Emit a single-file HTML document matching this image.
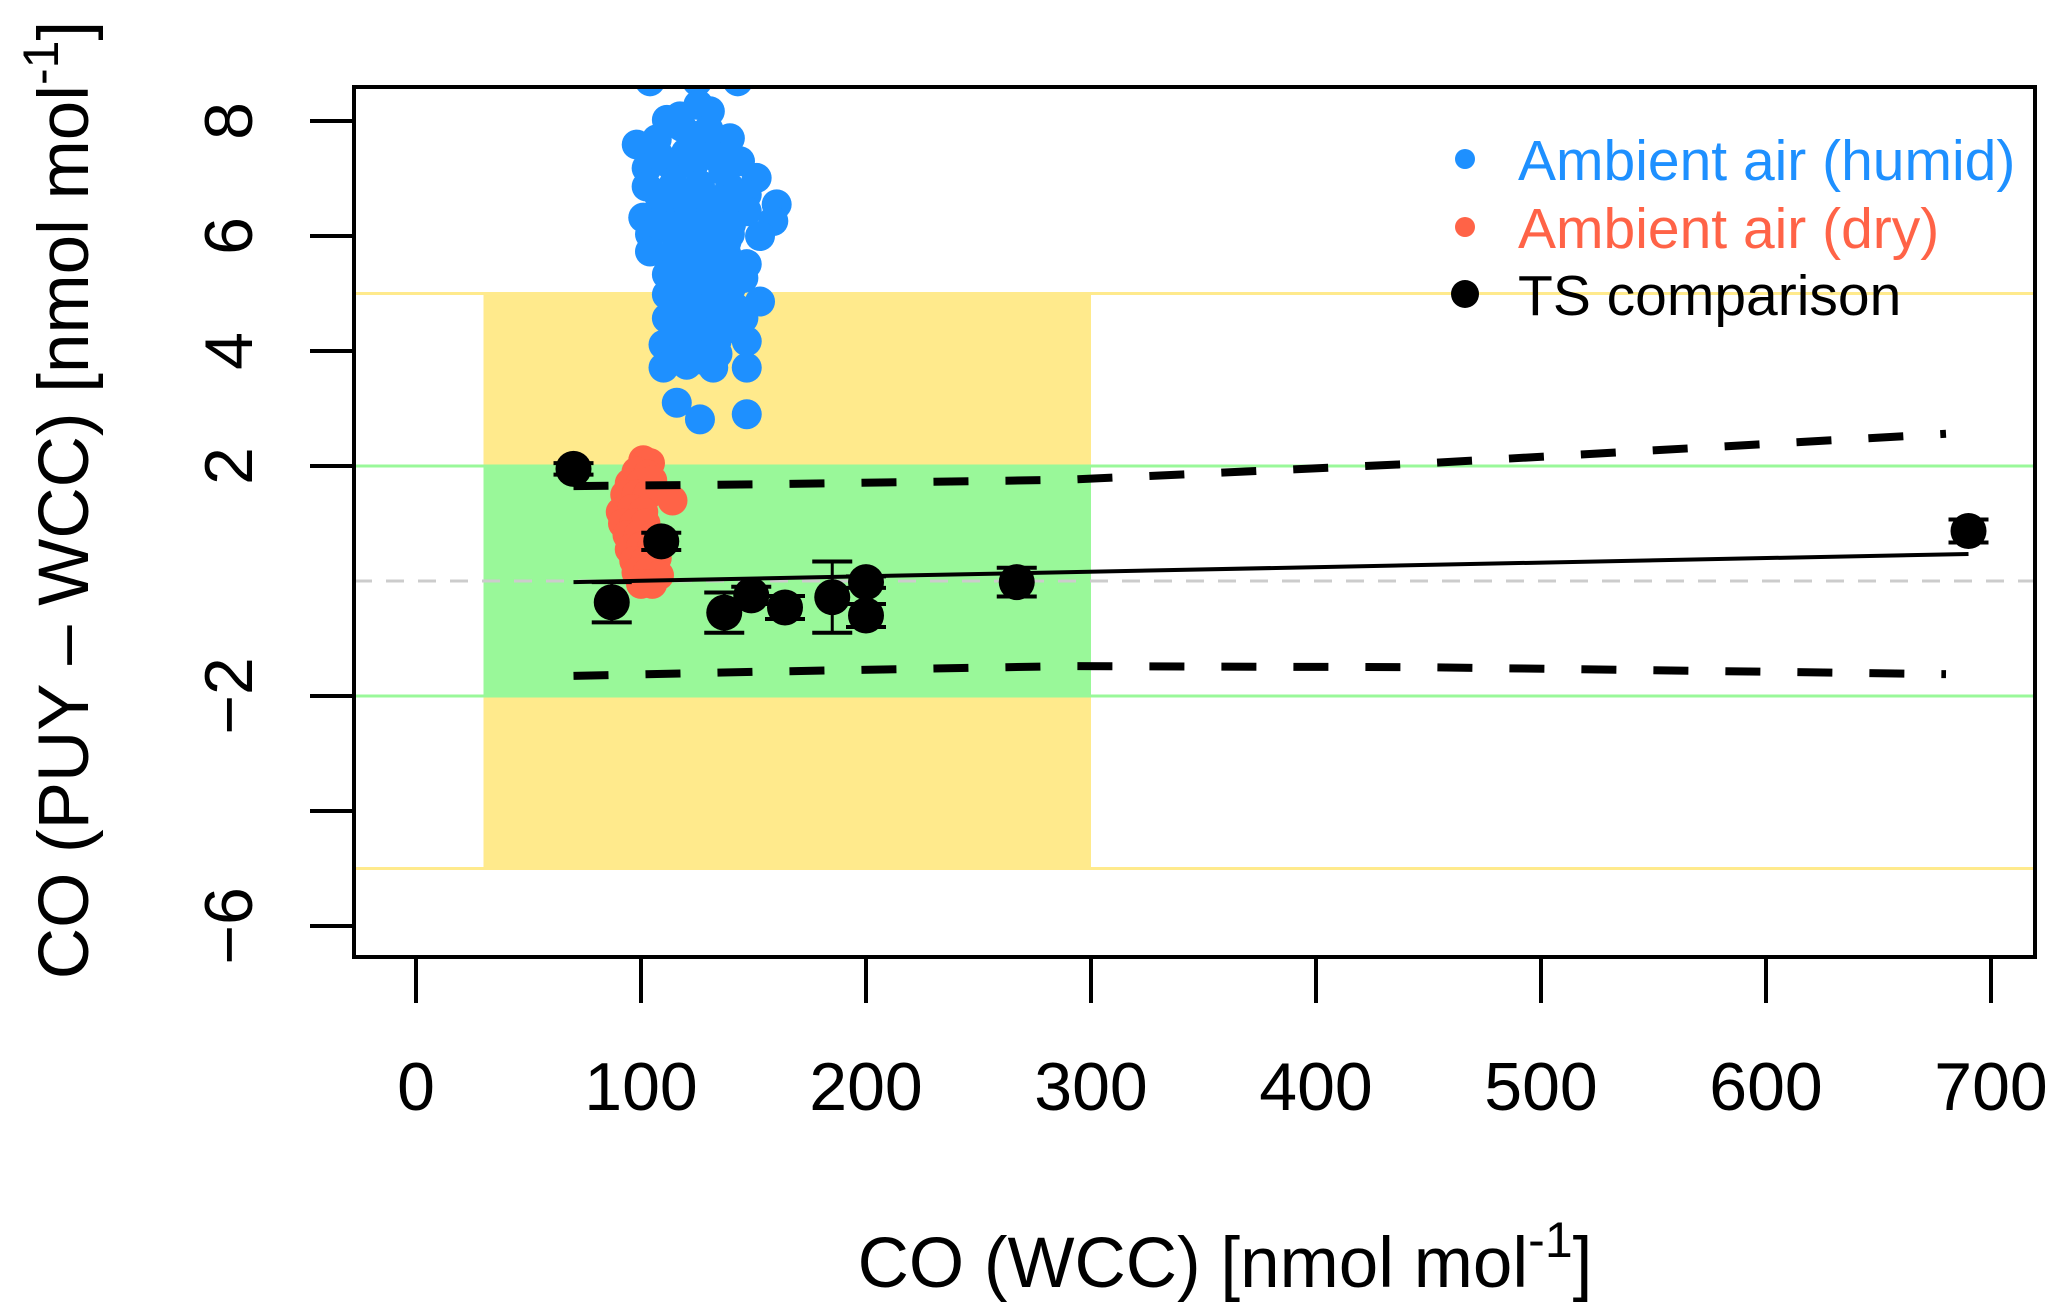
<!DOCTYPE html>
<html><head><meta charset="utf-8"><style>
html,body{margin:0;padding:0;background:#fff;}
svg{display:block;font-family:"Liberation Sans",Arial,sans-serif;}
</style></head><body>
<svg id="chart" width="2067" height="1313" viewBox="0 0 2067 1313" xmlns="http://www.w3.org/2000/svg">
<defs><clipPath id="plotclip"><rect x="354" y="87" width="1681" height="870"/></clipPath></defs>
<g id="bg" clip-path="url(#plotclip)"></g>
<g id="marks" clip-path="url(#plotclip)"></g>
<g id="axes"></g>
</svg>
<script>
const xTicks = [0,100,200,300,400,500,600,700];
const yTicks = [8,6,4,2,-2,-4,-6];
const yTickLabels = ["8","6","4","2","\u22122","","\u22126"];
const humidX = [104,125,143,125.5,130.6,111.5,117.3,98.1,107,121.8,139.5,129.2,133.6,102.5,113,123.3,136.6,151.4,102.5,114.4,126.2,139.5,147,160.3,101,111.5,123.3,135.1,147,158.8,104,115.9,127.7,139.5,152.9,104,114.4,126.2,138,147,111.5,123.3,135.1,145.5,111.5,123.3,135.1,152.9,111.5,123.3,135.1,145.5,110,121.8,133.6,147,110,120.3,132.1,147,115.9,126.2,147,129.2,118,140,
118,130,108,120,132,144,108,118,128,140,108,118,128,140,116,126,138,116,128,140,116,128,140,120,130,142,120,132,122,134,115,127];
const humidY = [8.69,8.69,8.69,8.28,8.17,8.02,8.08,7.59,7.68,7.76,7.7,7.53,7.36,7.18,7.24,7.24,7.13,7.01,6.86,6.89,6.89,6.84,6.72,6.55,6.32,6.43,6.49,6.43,6.43,6.26,6.03,6.03,6.03,6.03,6.0,5.73,5.68,5.68,5.68,5.51,5.33,5.33,5.33,5.27,4.98,4.92,4.98,4.86,4.57,4.57,4.57,4.57,4.11,4.17,4.17,4.17,3.71,3.76,3.71,3.71,3.10,2.81,2.90,3.94,4.3,4.4,
7.9,7.85,7.4,7.45,7.4,7.3,6.7,6.7,6.7,6.65,6.2,6.2,6.2,6.2,5.9,5.9,5.9,5.5,5.5,5.5,5.1,5.1,5.1,4.75,4.75,4.75,4.35,4.35,3.95,3.95,3.85,3.85];
const dryX = [101,104,98,103,95,100,105,93,98,103,114,91,96,101,92,97,102,94,99,104,95,100,105,97,102,107,98,103,108,100,105];
const dryY = [2.1,2.05,1.9,1.85,1.7,1.7,1.75,1.5,1.5,1.5,1.4,1.2,1.25,1.2,1.0,1.0,1.0,0.8,0.8,0.75,0.55,0.6,0.6,0.35,0.35,0.4,0.15,0.15,0.1,-0.05,-0.05];
const tsX = [70,109,87,137,149,164,185,200,200,267,690];
const tsY = [1.95,0.69,-0.37,-0.55,-0.25,-0.46,-0.28,-0.02,-0.6,-0.02,0.87];
const tsErr = [0.1,0.15,0.35,0.35,0.15,0.2,0.62,0.1,0.2,0.25,0.2];
const fitX = [70,690];
const fitY = [-0.02,0.47];
const bandX = [70,150,289,450,680];
const bandUpper = [1.65,1.68,1.76,2.05,2.56];
const bandLower = [-1.65,-1.58,-1.48,-1.5,-1.62];
const accX = [30,300];
const yellowLim = [-5,5];
const greenLim = [-2,2];

const NS="http://www.w3.org/2000/svg";
const X0=354,X1=2035,Y0=87,Y1=957;
function sx(v){return 416+2.25*v;}
function sy(v){return 581-57.5*v;}
function mk(tag,attrs,parent){const e=document.createElementNS(NS,tag);for(const k in attrs)e.setAttribute(k,attrs[k]);parent.appendChild(e);return e;}
const bg=document.getElementById('bg'),marks=document.getElementById('marks'),axes=document.getElementById('axes');

let r=mk('rect',{x:sx(accX[0]),y:sy(yellowLim[1]),width:sx(accX[1])-sx(accX[0]),height:sy(yellowLim[0])-sy(yellowLim[1]),fill:'#FFEA8C'},bg);


r=mk('rect',{x:sx(accX[0]),y:sy(greenLim[1]),width:sx(accX[1])-sx(accX[0]),height:sy(greenLim[0])-sy(greenLim[1]),fill:'#99F899'},bg);


yellowLim.forEach(v=>{const l=mk('line',{x1:X0,x2:X1,y1:sy(v),y2:sy(v),stroke:'#FFEA8C','stroke-width':3},bg);

});
greenLim.forEach(v=>{const l=mk('line',{x1:X0,x2:X1,y1:sy(v),y2:sy(v),stroke:'#99F899','stroke-width':3},bg);

});
let z=mk('line',{x1:X0,x2:X1,y1:sy(0),y2:sy(0),stroke:'#cccccc','stroke-width':3,'stroke-dasharray':'18 14'},bg);



humidX.forEach((v,i)=>{const c=mk('circle',{cx:sx(v),cy:sy(humidY[i]),r:15,fill:'#1E90FF'},marks);

});
dryX.forEach((v,i)=>{const c=mk('circle',{cx:sx(v),cy:sy(dryY[i]),r:15,fill:'#FF6347'},marks);

});

function band(arr,name){let d='M'+sx(bandX[0])+','+sy(arr[0]);for(let i=1;i<bandX.length;i++){d+=' L'+sx(bandX[i])+','+sy(arr[i]);}
const p=mk('path',{d:d,fill:'none',stroke:'#000','stroke-width':8,'stroke-dasharray':'35 37'},marks);

}
band(bandUpper,'upper-prediction-band');
band(bandLower,'lower-prediction-band');
let fl=mk('line',{x1:sx(fitX[0]),y1:sy(fitY[0]),x2:sx(fitX[1]),y2:sy(fitY[1]),stroke:'#000','stroke-width':4},marks);



tsX.forEach((v,i)=>{const cx=sx(v),y=tsY[i],e=tsErr[i];
const g=mk('g',{},marks);


mk('line',{x1:cx,x2:cx,y1:sy(y+e),y2:sy(y-e),stroke:'#000','stroke-width':3},g);
mk('line',{x1:cx-20,x2:cx+20,y1:sy(y+e),y2:sy(y+e),stroke:'#000','stroke-width':4},g);
mk('line',{x1:cx-20,x2:cx+20,y1:sy(y-e),y2:sy(y-e),stroke:'#000','stroke-width':4},g);
mk('circle',{cx:cx,cy:sy(y),r:18,fill:'#000'},g);});

let fr=mk('rect',{x:X0,y:Y0,width:X1-X0,height:Y1-Y0,fill:'none',stroke:'#000','stroke-width':4},axes);


xTicks.forEach(v=>{const g=mk('g',{},axes);


mk('line',{x1:sx(v),x2:sx(v),y1:Y1,y2:Y1+46,stroke:'#000','stroke-width':4},g);
const t=mk('text',{x:sx(v),y:1110,'font-size':68,'text-anchor':'middle',fill:'#000'},g);t.textContent=v;});
yTicks.forEach((v,i)=>{const g=mk('g',{},axes);


mk('line',{x1:X0-44,x2:X0,y1:sy(v),y2:sy(v),stroke:'#000','stroke-width':4},g);
if(yTickLabels[i]){const t=mk('text',{x:252,y:sy(v),'font-size':68,'text-anchor':'middle',fill:'#000',transform:'rotate(-90 252 '+sy(v)+')'},g);t.textContent=yTickLabels[i];}});
</script>
<svg style="position:absolute;left:0;top:0" width="2067" height="1313" xmlns="http://www.w3.org/2000/svg" font-family="Liberation Sans, Arial, sans-serif">
<text x="1225" y="1287" font-size="71" text-anchor="middle">CO (WCC) [nmol mol<tspan dy="-30" font-size="50">-1</tspan><tspan dy="30">]</tspan></text>
<text x="0" y="0" font-size="71" text-anchor="middle" transform="translate(88,500) rotate(-90)">CO (PUY – WCC) [nmol mol<tspan dy="-30" font-size="50">-1</tspan><tspan dy="30">]</tspan></text>
<g>
<circle cx="1465" cy="159" r="10" fill="#1E90FF"/>
<text x="1518" y="180" font-size="57" fill="#1E90FF">Ambient air (humid)</text>
<circle cx="1465" cy="227" r="10" fill="#FF6347"/>
<text x="1518" y="248" font-size="57" fill="#FF6347">Ambient air (dry)</text>
<circle cx="1465" cy="294" r="14" fill="#000"/>
<text x="1518" y="315" font-size="57" fill="#000">TS comparison</text>
</g>
</svg>
</body></html>
